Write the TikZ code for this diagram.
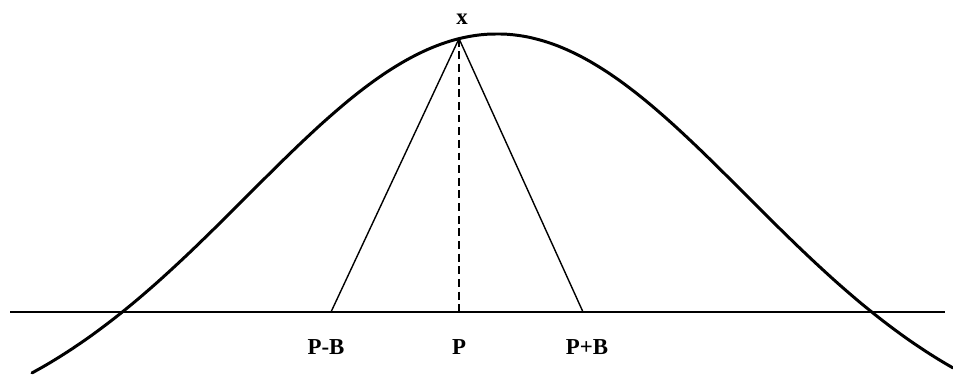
\documentclass[tikz,border=0pt]{standalone}
\usepackage{fontspec}
\setmainfont{Liberation Serif}
\usepackage{tikz}
\usetikzlibrary{positioning}

\begin{document}
\begin{tikzpicture}[x=2cm, y=2cm, font=\fontsize{13}{15}\selectfont\bfseries,
      curve/.style={line width=1.7pt, line cap=round},
      base/.style={line width=0.6pt},
      leg/.style={line width=0.8pt},
      mid/.style={line width=1.6pt, dash pattern=on 4.5pt off 2.7pt},
      lbl/.style={inner sep=0pt}]
    \useasboundingbox (0,0) rectangle (9.53,3.78);
    % points on the axis and on the curve
    \coordinate (apex) at (4.59, {-0.68+4.12*exp(-0.08*(4.59-4.97)^2)});
    \coordinate (pm) at (3.31,0.66);
    \coordinate (p)  at (4.59,0.66);
    \coordinate (pp) at (5.83,0.66);
    \coordinate (axl) at (0.10,0.66);
    \coordinate (axr) at (9.45,0.66);
    % axis and bell curve
    \draw[base] (axl) -- (axr);
    \draw[curve] plot[domain=0.32:9.53, samples=120, smooth] (\x, {-0.68+4.12*exp(-0.08*(\x-4.97)^2)});
    % the two legs and the dashed drop
    \draw[leg] (apex) -- (pm);
    \draw[leg] (apex) -- (pp);
    \draw[mid] (apex) -- (p);
    % labels
    \node[lbl, above=0.28cm of apex, xshift=0.06cm] (xl) {x};
    \node[lbl, below=0.55cm of pm, xshift=-0.1cm] (pml) {P-B};
    \node[lbl, below=0.55cm of p] (pl) {P};
    \node[lbl, below=0.55cm of pp, xshift=0.08cm] (ppl) {P+B};
\end{tikzpicture}
\end{document}
